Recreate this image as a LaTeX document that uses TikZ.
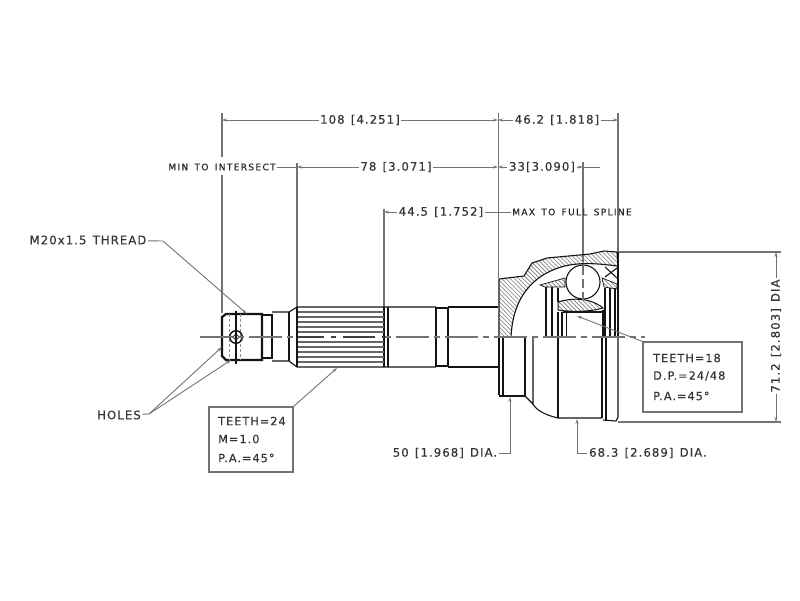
\documentclass[tikz,border=0pt]{standalone}
\usepackage{fontspec}
\usetikzlibrary{arrows.meta,patterns.meta}
\newfontfamily\cadfont[LetterSpace=9,WordSpace=1.3,FakeBold=0.25]{DejaVu Sans}
\newfontfamily\cadsmall[LetterSpace=15,WordSpace=1.5,FakeBold=0.25]{DejaVu Sans}
\definecolor{dimc}{gray}{0.45}
\definecolor{objc}{gray}{0.08}
\tikzset{
  x=1pt,y=-1pt,
  obj/.style={draw=objc,line width=1.1pt},
  objt/.style={draw=objc,line width=2.2pt},
  ext/.style={draw=dimc,line width=1.1pt},
  dim/.style={draw=dimc,line width=0.9pt,-{Stealth[length=5pt,width=3pt]}},
  plainline/.style={draw=dimc,line width=0.9pt},
  lab/.style={font=\cadfont\fontsize{11.7}{13}\selectfont,text=black!80,inner sep=1.5pt},
  small/.style={font=\cadsmall\fontsize{9}{10}\selectfont,text=black!85,inner sep=1pt},
  infobox/.style={draw=dimc,line width=1.1pt,fill=white},
  boxtext/.style={font=\cadfont\fontsize{11.3}{13}\selectfont,text=black!80,inner sep=0pt,anchor=west},
  hatch/.style={pattern={Lines[angle=-45,distance=3pt,line width=0.75pt]},pattern color=black!45},
  cline/.style={draw=dimc,line width=1.2pt,dash pattern=on 33pt off 5pt on 6pt off 5pt},
  tooth/.style={draw=black!60,line width=1.1pt},
}
\begin{document}
\begin{tikzpicture}
\useasboundingbox (0,0) rectangle (800,600);
\fill[white] (0,0) rectangle (800,600);

% named end points
\coordinate (e222a) at (222,120); \coordinate (e498a) at (498,120); \coordinate (e618a) at (618,120);
\coordinate (e297b) at (297,167); \coordinate (e498b) at (498,167); \coordinate (e583b) at (583,167);
\coordinate (e600b) at (600,167);
\coordinate (e384c) at (384,212); \coordinate (e498c) at (498,212);
\coordinate (top71) at (776,252); \coordinate (bot71) at (776,422);

% extension lines
\draw[ext] (222,113) -- (222,157) (222,175) -- (222,313);
\draw[ext] (297,163) -- (297,307);
\draw[ext] (384,209) -- (384,307);
\draw[ext] (498.5,113) -- (498.5,278);
\draw[ext] (583,162) -- (583,262);
\draw[ext] (618,113) -- (618,252);
\draw[ext] (619,252) -- (781,252);
\draw[ext] (618,422) -- (781,422);

% hatched bell section
\path[hatch] (499,337) -- (499,279) -- (524,276) -- (532,263) -- (547,258) -- (590,254) -- (604,252) -- (617,252)
  -- (617,266) .. controls (595,263) and (575,262) .. (558,268)
  .. controls (535,276) and (513,295) .. (511,337) -- cycle;
\draw[obj] (499,337) -- (499,279) -- (524,276) -- (532,263) -- (547,258) -- (590,254) -- (604,251) -- (617,252) -- (618,268);
\draw[obj] (617,266) .. controls (595,263) and (575,262) .. (558,268)
  .. controls (535,276) and (513,295) .. (511,337);

% cage, race, ball
\path[hatch,draw=objc,line width=0.7pt] (540,285) -- (565,278) -- (565,287) -- (545,287) -- cycle;
\path[hatch,draw=objc,line width=0.7pt] (602,278) -- (617,284) -- (617,289) -- (604,287) -- cycle;
\path[hatch,draw=objc,line width=1pt] (558,302) .. controls (570,298) and (590,297) .. (603,308)
  .. controls (590,312) and (570,312) .. (558,310) -- cycle;
\draw[obj] (605,277) -- (617,268) (605,267) -- (617,278);
\draw[obj,fill=white] (583,282) circle[radius=17];
\draw[ext,dash pattern=on 9pt off 4pt] (583,266) -- (583,300);
\draw[objt] (546,287) -- (546,337) (552,287) -- (552,337);
\draw[obj] (558,288) -- (558,302);
\draw[objt] (558,312) -- (558,337) (562,312) -- (562,337);
\draw[draw=objc,line width=1pt] (566,311) -- (566,337);
\draw[obj] (563,312) -- (602,312) (603,310) -- (603,337);
\draw[obj] (605,288) -- (605,337) (610,288) -- (610,337) (615,288) -- (615,337);

% shaft outline
\draw[objt] (222,337) -- (222,356) -- (226,360) -- (262,360) -- (262,314) -- (226,314) -- (222,317) -- (222,337);
\draw[obj] (262,315) -- (272,315) (262,358) -- (272,358);
\draw[objt] (272,314) -- (272,359);
\draw[obj] (272,312) -- (289,312) -- (297,307) -- (388,307) -- (436,307) (272,361) -- (289,361) -- (297,367) -- (436,367);
\draw[obj] (289,312) -- (289,361);
\draw[objt] (388,307) -- (388,367);
\draw[obj] (384,307) -- (384,367);
\draw[objt] (436,307) -- (436,367) (448,307) -- (448,367);
\draw[obj] (436,308) -- (448,308) (436,366) -- (448,366);
\draw[obj] (448,307) -- (498,307) (448,367) -- (498,367);
% thread detail
\draw[draw=black!45,line width=0.8pt,dash pattern=on 3pt off 2pt] (229,314) -- (229,360) (240,314) -- (240,360);
\draw[objt,line width=1.2pt] (236,311) -- (236,364);
\draw[objt,line width=1.4pt] (236,337) circle[radius=6.3];
\draw[obj,line width=0.8pt] (236,337) circle[radius=2.5];

% spline teeth
\foreach \yy in {312,317,322,327,332,342,347,352,357,362}{\draw[tooth] (297,\yy) -- (384,\yy);}

% lower half of the joint
\draw[objt] (499,337) -- (499,395);
\draw[obj] (503,337) -- (503,396);
\draw[obj] (499,396) -- (525,396) -- (525,337);
\draw[obj] (525,396) -- (533,404) -- (533,337);
\draw[obj] (533,404) .. controls (536,410) and (545,415) .. (558,418) -- (602,418);
\draw[objt] (558,337) -- (558,418);
\draw[obj] (602,337) -- (602,418);
\draw[objt] (606,337) -- (606,421);
\draw[obj] (603,420) -- (616,421) -- (618,417) -- (618,337);
\draw[obj] (618,252) -- (618,337);

% centre line
\draw[cline] (200,337) -- (645,337);
\draw[draw=black!75,line width=2.4pt] (297,337) -- (384,337);
\draw[draw=white,line width=1.3pt] (324,337) -- (331,337) (336,337) -- (343,337) (375,337) -- (382,337);
\draw[objt,line width=1.6pt] (297,307) -- (297,367);

% dimension labels and lines
\node[lab] (t108) at (360,120) {108 [4.251]};
\draw[dim] (t108) -- (e222a);
\draw[dim] (t108) -- (e498a);
\node[lab] (t462) at (557,120) {46.2 [1.818]};
\draw[dim] (t462) -- (e498a);
\draw[dim] (t462) -- (e618a);
\node[small] (tmin) at (222,167) {MIN TO INTERSECT};
\draw[plainline] (tmin) -- (e297b);
\node[lab] (t78) at (396,167) {78 [3.071]};
\draw[dim] (t78) -- (e297b);
\draw[dim] (t78) -- (e498b);
\node[lab] (t33) at (542,167) {33[3.090]};
\draw[dim] (t33) -- (e498b);
\draw[dim] (t33) -- (e583b);
\draw[plainline] (e583b) -- (e600b);
\node[lab] (t445) at (441,212) {44.5 [1.752]};
\draw[dim] (t445) -- (e384c);
\node[small] (tmax) at (572,212) {MAX TO FULL SPLINE};
\draw[plainline] (t445) -- (tmax);
\node[lab,rotate=90] (t712) at (776,336) {71.2 [2.803] DIA};
\draw[dim] (t712) -- (top71);
\draw[dim] (t712) -- (bot71);

% leaders
\node[lab] (tm20) at (88,240) {M20x1.5 THREAD};
\coordinate (m20a) at (163,241); \coordinate (m20b) at (247,314);
\draw[dim] (tm20) -- (m20a) -- (m20b);
\node[lab] (tholes) at (119,415) {HOLES};
\coordinate (ha) at (149,414); \coordinate (hb) at (222,347); \coordinate (hc) at (231,360);
\draw[plainline] (tholes) -- (ha);
\draw[dim] (ha) -- (hb);
\draw[dim] (ha) -- (hc);
\node[lab] (t50) at (445,453) {50 [1.968] DIA.};
\coordinate (a50) at (510,453); \coordinate (b50) at (510,397);
\draw[dim] (t50) -- (a50) -- (b50);
\node[lab] (t683) at (648,453) {68.3 [2.689] DIA.};
\coordinate (a68) at (577,453); \coordinate (b68) at (577,419);
\draw[dim] (t683) -- (a68) -- (b68);

% info boxes
\node[infobox,minimum width=84pt,minimum height=65pt,inner sep=0pt] (box1) at (251,439.5) {};
\node[boxtext] (b1a) at (218,421) {TEETH=24};
\node[boxtext] (b1b) at (218,439) {M=1.0};
\node[boxtext] (b1c) at (218,458) {P.A.=45°};
\coordinate (tip1) at (337,368);
\draw[dim] (box1.north east) -- (tip1);
\node[infobox,minimum width=99pt,minimum height=70pt,inner sep=0pt] (box2) at (692.5,377) {};
\node[boxtext] (b2a) at (653,358) {TEETH=18};
\node[boxtext] (b2b) at (653,376) {D.P.=24/48};
\node[boxtext] (b2c) at (653,396) {P.A.=45°};
\coordinate (tip2) at (577,316);
\draw[dim] (box2.north west) -- (tip2);
\end{tikzpicture}
\end{document}
